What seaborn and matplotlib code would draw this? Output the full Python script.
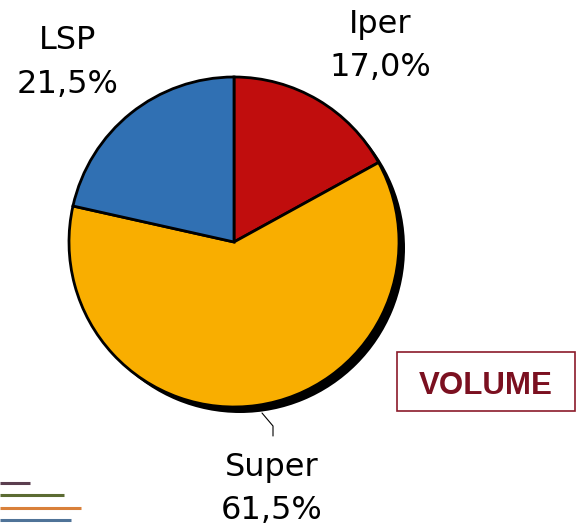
import matplotlib
matplotlib.use("Agg")
import matplotlib.pyplot as plt
import seaborn as sns
from matplotlib.patches import Rectangle

# data
categories = ["Iper", "Super", "LSP"]
shares = [17.0, 61.5, 21.5]
slice_colors = ["#c00d0d", "#f9ae00", "#3070b3"]

W, H = 584, 525
cx, cy, r = 234, H - 242, 165

sns.set_theme(style="white")
plt.rcParams["font.family"] = ["DejaVu Sans"]

fig = plt.figure(figsize=(W / 100, H / 100), dpi=100)
ax = fig.add_axes([0, 0, 1, 1])

# shadow
ax.pie([1], colors=["black"], radius=r, center=(cx + 6, cy - 6),
       wedgeprops=dict(linewidth=0), frame=True)
ax.pie(shares, colors=slice_colors, radius=r, center=(cx, cy),
       startangle=90, counterclock=False,
       wedgeprops=dict(edgecolor="black", linewidth=2.0), frame=True)
ax.set_xlim(0, W)
ax.set_ylim(0, H)
ax.axis("off")

def pct(v):
    return f"{v:.1f}%".replace(".", ",")

# (x centre, baseline of name, baseline of percentage) in pixels from top
label_pos = {"Iper": (380, 33, 76), "Super": (272, 476, 519), "LSP": (68, 49, 93)}
for name, val in zip(categories, shares):
    x, y1, y2 = label_pos[name]
    ax.text(x, H - y1, name, ha="center", va="baseline", fontsize=23, color="black")
    ax.text(x, H - y2, pct(val), ha="center", va="baseline", fontsize=23, color="black")

# leader line for Super
ax.plot([262, 273, 273], [H - 413, H - 426, H - 436], color="black", linewidth=0.8)

# VOLUME box
ax.add_patch(Rectangle((397, H - 411), 178, 59, fill=False, edgecolor="#8b1a2a", linewidth=1.2))
ax.text(486, H - 394, "VOLUME", ha="center", va="baseline", fontsize=22.5,
        fontweight="bold", color="#7b1020", family="Liberation Sans")

# decorative lines bottom-left
deco = [(483, 30, "#5b3e4f"), (495, 64, "#5b6b32"), (508, 81, "#d9803a"), (520, 71, "#4f7398")]
for y, length, c in deco:
    ax.plot([0, length], [H - y, H - y], color=c, linewidth=2.2, solid_capstyle="butt")

fig.savefig("out.png", dpi=100)
